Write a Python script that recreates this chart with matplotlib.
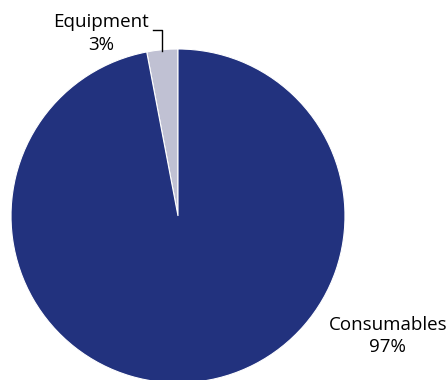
import matplotlib.pyplot as plt

plt.rcParams['font.family'] = ['Open Sans', 'DejaVu Sans']

# Data
categories = ['Equipment', 'Consumables']
shares = [3, 97]
colors = ['#c0c1d3', '#22327e']

fig = plt.figure(figsize=(4.48, 3.8), dpi=100)
ax = fig.add_axes([0, 0, 1, 1])

ax.pie(shares, colors=colors, startangle=90, counterclock=True,
       radius=1.0, center=(0, 0),
       wedgeprops=dict(edgecolor='white', linewidth=0.8))

ax.set_xlim(-1.066, 1.617)
ax.set_ylim(-0.982, 1.293)
ax.set_aspect('equal')
ax.axis('off')

# Labels
ax.text(-0.461, 1.093, f"{categories[0]}\n{shares[0]}%", ha='center', va='center',
        fontsize=13.5, linespacing=1.3)
ax.plot([-0.15, -0.096, -0.096], [1.114, 1.114, 0.99], color='black', lw=1)

ax.text(1.257, -0.719, f"{categories[1]}\n{shares[1]}%", ha='center', va='center',
        fontsize=13.5, linespacing=1.3)

fig.savefig('out.png', dpi=100)
